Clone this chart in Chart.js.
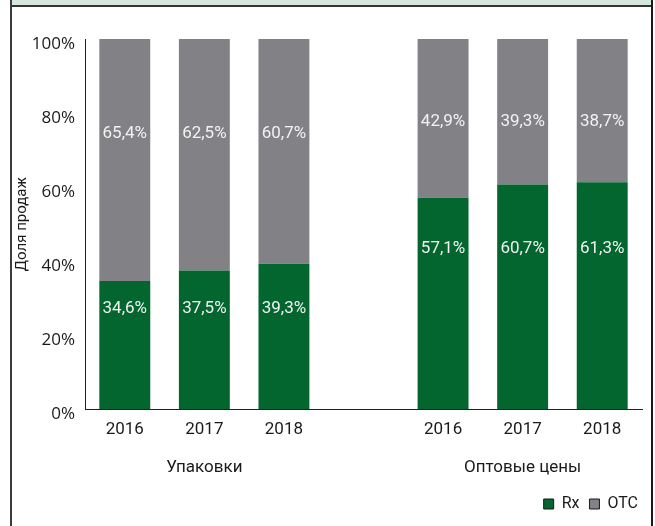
<!DOCTYPE html>
<html>
<head>
<meta charset="utf-8">
<script src="https://cdn.jsdelivr.net/npm/chart.js@4"></script>
<style>
  body { margin: 0; background: #fff; }
  #wrap { position: relative; width: 655px; height: 526px; }
  #grafico { position: absolute; left: 0; top: 0; }
  /* moldura */
  .borda-esq { position: absolute; left: 10px; top: 0; width: 2px; height: 526px; background: #3c3c3c; }
  .borda-dir { position: absolute; left: 651px; top: 0; width: 2px; height: 526px; background: #1a1a1a; }
  .faixa { position: absolute; left: 10px; top: 0; width: 643px; height: 5px; background: #d6e7dc; border-bottom: 2px solid #333; }
</style>
</head>
<body>
<div id="wrap">
  <canvas id="grafico" width="655" height="526"></canvas>
  <div class="faixa"></div>
  <div class="borda-esq"></div>
  <div class="borda-dir"></div>
</div>
<script>
// dados do grafico
var anos = ["2016", "2017", "2018", "", "2016", "2017", "2018"];
var grupos = ["", "Упаковки", "", "", "", "Оптовые цены", ""];
var rx = [34.6, 37.5, 39.3, null, 57.1, 60.7, 61.3];
var otc = [65.4, 62.5, 60.7, null, 42.9, 39.3, 38.7];
var ticksY = [0, 20, 40, 60, 80, 100];

var verde = "#04662f";
var cinza = "#828286";

// rotulos dentro das barras (posicao vertical por grupo, em %)
const rotulosPlugin = {
  id: "rotulos",
  afterDatasetsDraw(chart, args, opts) {
    var ctx = chart.ctx;
    var yScale = chart.scales.y;
    ctx.save();
    ctx.font = "17px Roboto";
    ctx.fillStyle = "#f2f2f2";
    ctx.textAlign = "center";
    ctx.textBaseline = "middle";
    chart.data.datasets.forEach(function (ds, d) {
      var meta = chart.getDatasetMeta(d);
      meta.data.forEach(function (bar, i) {
        var v = ds.data[i];
        if (v == null) return;
        var g = i < 3 ? 0 : 1;
        var y = yScale.getPixelForValue(opts.niveis[d][g]);
        ctx.fillText(v.toFixed(1).replace(".", ",") + "%", bar.x, y);
      });
    });
    ctx.restore();
  }
};

const config = {
  type: "bar",
  data: {
    labels: anos,
    datasets: [
      { label: "Rx", data: rx, backgroundColor: verde, borderWidth: 0 },
      { label: "OTC", data: otc, backgroundColor: cinza, borderWidth: 0 }
    ]
  },
  options: {
    responsive: false,
    animation: false,
    layout: { padding: { left: 13, right: 7, top: 39, bottom: 4 } },
    datasets: { bar: { barPercentage: 0.64, categoryPercentage: 1 } },
    scales: {
      x: {
        stacked: true,
        grid: { display: false, drawTicks: false },
        border: { display: true, color: "#222", width: 1 },
        ticks: { color: "#1a1a1a", font: { family: "Roboto", size: 17 }, padding: 10, autoSkip: false, maxRotation: 0 }
      },
      x2: {
        type: "category",
        labels: grupos,
        position: "bottom",
        grid: { display: false, drawTicks: false },
        border: { display: false },
        ticks: { color: "#1a1a1a", font: { family: "Roboto", size: 17 }, padding: 8, autoSkip: false, maxRotation: 0 }
      },
      y: {
        stacked: true,
        min: 0,
        max: 100,
        afterBuildTicks: function (axis) {
          axis.ticks = ticksY.map(function (v) { return { value: v }; });
        },
        grid: { display: false, drawTicks: false },
        border: { display: true, color: "#222", width: 1 },
        ticks: {
          color: "#1a1a1a",
          font: { family: "Open Sans", size: 17 },
          padding: 10,
          labelOffset: 5,
          callback: function (v) { return v + "%"; }
        },
        title: {
          display: true,
          text: "Доля продаж",
          color: "#1a1a1a",
          font: { family: "Roboto", size: 15 },
          padding: 0
        },
        afterFit: function (axis) { axis.width = 72; }
      },
      // eixo vazio so para deixar uma folga a direita do grafico
      folga: {
        type: "linear",
        position: "right",
        grid: { display: false, drawTicks: false },
        border: { display: false },
        ticks: { display: false },
        afterFit: function (axis) { axis.width = 6; }
      }
    },
    plugins: {
      tooltip: { enabled: false },
      legend: {
        position: "bottom",
        align: "end",
        labels: {
          color: "#1a1a1a",
          font: { family: "Roboto", size: 16 },
          boxWidth: 10,
          boxHeight: 10,
          padding: 10,
          generateLabels: function (chart) {
            var itens = Chart.defaults.plugins.legend.labels.generateLabels(chart);
            itens.forEach(function (it) { it.strokeStyle = "#1a1a1a"; it.lineWidth = 1; });
            return itens;
          }
        }
      },
      rotulos: { niveis: [[27.1, 43.4], [74.4, 77.6]] }
    }
  },
  plugins: [rotulosPlugin]
};

var myChart = new Chart(document.getElementById("grafico"), config);
</script>
</body>
</html>
